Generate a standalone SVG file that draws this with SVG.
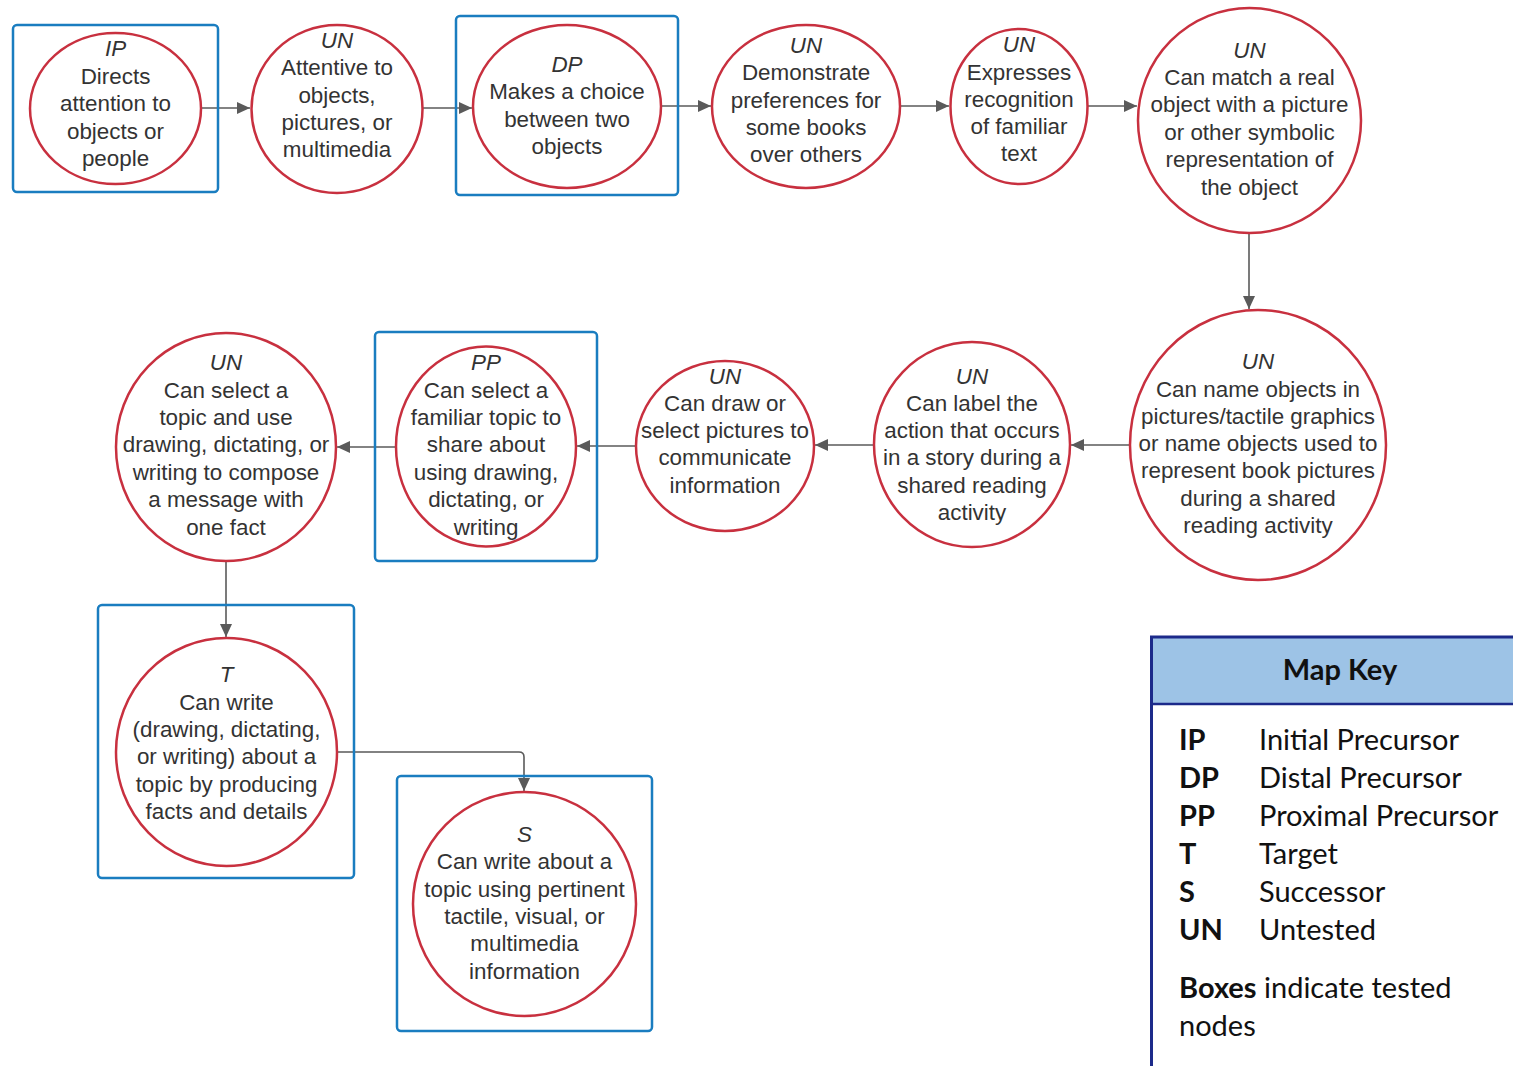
<svg xmlns="http://www.w3.org/2000/svg" width="1513" height="1066" viewBox="0 0 1513 1066">
<defs>
<style>
.bg{fill:#ffffff}
.box{fill:none;stroke:#1a7dc0;stroke-width:2.5}
.el{fill:#ffffff;stroke:#c8303f;stroke-width:2.5}
.t{font-family:"Liberation Sans",Arial,sans-serif;font-size:22.4px;fill:#333333;text-anchor:middle}
.i{font-style:italic}
.c{fill:none;stroke:#5a5a5a;stroke-width:1.6}
.k{font-family:Lato,"Open Sans",sans-serif;font-size:29px;fill:#111111}
.kb{font-weight:bold}
</style>
<marker id="ah" markerWidth="14" markerHeight="12" refX="13" refY="6" orient="auto" markerUnits="userSpaceOnUse">
<path d="M0,0 L13,6 L0,12 z" fill="#5a5a5a"/>
</marker>
</defs>
<rect class="bg" x="0" y="0" width="1513" height="1066"/>

<g id="connectors">
<line class="c" x1="201" y1="108" x2="250" y2="108" marker-end="url(#ah)"/>
<line class="c" x1="422" y1="108" x2="472" y2="108" marker-end="url(#ah)"/>
<line class="c" x1="661" y1="106" x2="711" y2="106" marker-end="url(#ah)"/>
<line class="c" x1="900" y1="106" x2="949" y2="106" marker-end="url(#ah)"/>
<line class="c" x1="1087" y1="106" x2="1137" y2="106" marker-end="url(#ah)"/>
<line class="c" x1="1249" y1="233" x2="1249" y2="309" marker-end="url(#ah)"/>
<line class="c" x1="1130" y1="445" x2="1071" y2="445" marker-end="url(#ah)"/>
<line class="c" x1="874" y1="445" x2="815" y2="445" marker-end="url(#ah)"/>
<line class="c" x1="636" y1="446" x2="577" y2="446" marker-end="url(#ah)"/>
<line class="c" x1="396" y1="447" x2="337" y2="447" marker-end="url(#ah)"/>
<line class="c" x1="226" y1="561" x2="226" y2="637" marker-end="url(#ah)"/>
<path class="c" d="M337,752 L519,752 Q524,752 524,757 L524,791" marker-end="url(#ah)"/>
</g>

<g id="node-ip">
<rect class="box" x="13" y="25" width="205" height="167" rx="4"/>
<ellipse class="el" cx="115.5" cy="108.5" rx="85.5" ry="75.5"/>
<text class="t"><tspan class="i" x="115.5" y="56">IP</tspan><tspan x="115.5" y="84">Directs</tspan><tspan x="115.5" y="111">attention to</tspan><tspan x="115.5" y="139">objects or</tspan><tspan x="115.5" y="166">people</tspan></text>
</g>

<g id="node-attentive">
<ellipse class="el" cx="337" cy="109" rx="85.5" ry="84"/>
<text class="t"><tspan class="i" x="337" y="48">UN</tspan><tspan x="337" y="75">Attentive to</tspan><tspan x="337" y="103">objects,</tspan><tspan x="337" y="130">pictures, or</tspan><tspan x="337" y="157">multimedia</tspan></text>
</g>

<g id="node-dp">
<rect class="box" x="456" y="16" width="222" height="179" rx="4"/>
<ellipse class="el" cx="567" cy="106.5" rx="94" ry="81.5"/>
<text class="t"><tspan class="i" x="567" y="72">DP</tspan><tspan x="567" y="99">Makes a choice</tspan><tspan x="567" y="127">between two</tspan><tspan x="567" y="154">objects</tspan></text>
</g>

<g id="node-preferences">
<ellipse class="el" cx="806" cy="106.5" rx="94" ry="81.5"/>
<text class="t"><tspan class="i" x="806" y="53">UN</tspan><tspan x="806" y="80">Demonstrate</tspan><tspan x="806" y="108">preferences for</tspan><tspan x="806" y="135">some books</tspan><tspan x="806" y="162">over others</tspan></text>
</g>

<g id="node-expresses">
<ellipse class="el" cx="1019" cy="106.5" rx="68.5" ry="77.5"/>
<text class="t"><tspan class="i" x="1019" y="52">UN</tspan><tspan x="1019" y="80">Expresses</tspan><tspan x="1019" y="107">recognition</tspan><tspan x="1019" y="134">of familiar</tspan><tspan x="1019" y="161">text</tspan></text>
</g>

<g id="node-match">
<ellipse class="el" cx="1249.5" cy="120.5" rx="111.5" ry="112.5"/>
<text class="t"><tspan class="i" x="1249.5" y="58">UN</tspan><tspan x="1249.5" y="85">Can match a real</tspan><tspan x="1249.5" y="112">object with a picture</tspan><tspan x="1249.5" y="140">or other symbolic</tspan><tspan x="1249.5" y="167">representation of</tspan><tspan x="1249.5" y="195">the object</tspan></text>
</g>

<g id="node-name">
<ellipse class="el" cx="1258" cy="445" rx="128" ry="135"/>
<text class="t"><tspan class="i" x="1258" y="369">UN</tspan><tspan x="1258" y="397">Can name objects in</tspan><tspan x="1258" y="424">pictures/tactile graphics</tspan><tspan x="1258" y="451">or name objects used to</tspan><tspan x="1258" y="478">represent book pictures</tspan><tspan x="1258" y="506">during a shared</tspan><tspan x="1258" y="533">reading activity</tspan></text>
</g>

<g id="node-label">
<ellipse class="el" cx="972" cy="444.5" rx="98" ry="102.5"/>
<text class="t"><tspan class="i" x="972" y="384">UN</tspan><tspan x="972" y="411">Can label the</tspan><tspan x="972" y="438">action that occurs</tspan><tspan x="972" y="465">in a story during a</tspan><tspan x="972" y="493">shared reading</tspan><tspan x="972" y="520">activity</tspan></text>
</g>

<g id="node-draw">
<ellipse class="el" cx="725" cy="446" rx="89" ry="85"/>
<text class="t"><tspan class="i" x="725" y="384">UN</tspan><tspan x="725" y="411">Can draw or</tspan><tspan x="725" y="438">select pictures to</tspan><tspan x="725" y="465">communicate</tspan><tspan x="725" y="493">information</tspan></text>
</g>

<g id="node-pp">
<rect class="box" x="375" y="332" width="222" height="229" rx="4"/>
<ellipse class="el" cx="486" cy="446.5" rx="90" ry="100"/>
<text class="t"><tspan class="i" x="486" y="370">PP</tspan><tspan x="486" y="398">Can select a</tspan><tspan x="486" y="425">familiar topic to</tspan><tspan x="486" y="452">share about</tspan><tspan x="486" y="480">using drawing,</tspan><tspan x="486" y="507">dictating, or</tspan><tspan x="486" y="535">writing</tspan></text>
</g>

<g id="node-select">
<ellipse class="el" cx="226" cy="447" rx="110" ry="114"/>
<text class="t"><tspan class="i" x="226" y="370">UN</tspan><tspan x="226" y="398">Can select a</tspan><tspan x="226" y="425">topic and use</tspan><tspan x="226" y="452">drawing, dictating, or</tspan><tspan x="226" y="480">writing to compose</tspan><tspan x="226" y="507">a message with</tspan><tspan x="226" y="535">one fact</tspan></text>
</g>

<g id="node-t">
<rect class="box" x="98" y="605" width="256" height="273" rx="4"/>
<ellipse class="el" cx="226.5" cy="752" rx="110.5" ry="114"/>
<text class="t"><tspan class="i" x="226.5" y="682">T</tspan><tspan x="226.5" y="710">Can write</tspan><tspan x="226.5" y="737">(drawing, dictating,</tspan><tspan x="226.5" y="764">or writing) about a</tspan><tspan x="226.5" y="792">topic by producing</tspan><tspan x="226.5" y="819">facts and details</tspan></text>
</g>

<g id="node-s">
<rect class="box" x="397" y="776" width="255" height="255" rx="4"/>
<ellipse class="el" cx="524.5" cy="904" rx="111.5" ry="112"/>
<text class="t"><tspan class="i" x="524.5" y="842">S</tspan><tspan x="524.5" y="869">Can write about a</tspan><tspan x="524.5" y="897">topic using pertinent</tspan><tspan x="524.5" y="924">tactile, visual, or</tspan><tspan x="524.5" y="951">multimedia</tspan><tspan x="524.5" y="979">information</tspan></text>
</g>

<g id="map-key">
<rect x="1151" y="637" width="364" height="67" fill="#9dc3e6"/>
<line x1="1150" y1="637" x2="1513" y2="637" stroke="#1c2a8a" stroke-width="3"/>
<line x1="1150" y1="704" x2="1513" y2="704" stroke="#1c2a8a" stroke-width="2.5"/>
<line x1="1151.5" y1="636" x2="1151.5" y2="1066" stroke="#1c2a8a" stroke-width="3"/>
<text class="k kb" x="1340" y="680" text-anchor="middle">Map Key</text>
<text class="k kb" x="1179" y="750">IP</text><text class="k" x="1259" y="750">Initial Precursor</text>
<text class="k kb" x="1179" y="788">DP</text><text class="k" x="1259" y="788">Distal Precursor</text>
<text class="k kb" x="1179" y="826">PP</text><text class="k" x="1259" y="826">Proximal Precursor</text>
<text class="k kb" x="1179" y="864">T</text><text class="k" x="1259" y="864">Target</text>
<text class="k kb" x="1179" y="902">S</text><text class="k" x="1259" y="902">Successor</text>
<text class="k kb" x="1179" y="940">UN</text><text class="k" x="1259" y="940">Untested</text>
<text class="k" x="1179" y="998"><tspan class="kb">Boxes</tspan> indicate tested</text>
<text class="k" x="1179" y="1036">nodes</text>
</g>
</svg>
